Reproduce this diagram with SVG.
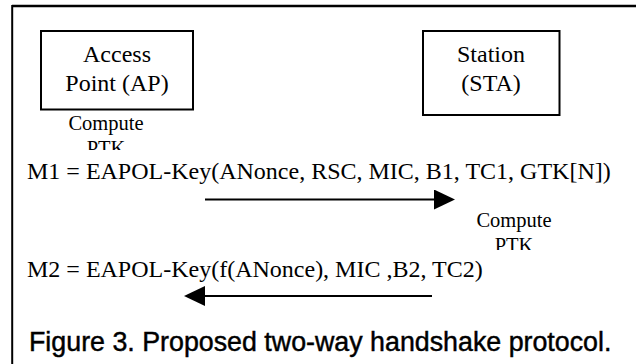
<svg xmlns="http://www.w3.org/2000/svg" width="636" height="364" viewBox="0 0 636 364">
  <style>
    .lbl { font-size: 24px; }
    .small { font-size: 20.5px; }
    .box { fill: #fff; stroke: #000; stroke-width: 2; }
    .conn { stroke: #000; stroke-width: 2; fill: none; }
    .cap { font-family: "Liberation Sans", Arial, sans-serif; font-size: 26.8px; fill: #000; stroke: #000; stroke-width: 0.45; }
  </style>
  <defs>
    <marker id="ah" viewBox="0 0 21 20" refX="1" refY="10" markerWidth="21" markerHeight="20" markerUnits="userSpaceOnUse" orient="auto">
      <path d="M0,0 L21,10 L0,20 z" fill="#000"/>
    </marker>
    <clipPath id="clipL"><rect x="0" y="100" width="300" height="50"/></clipPath>
    <clipPath id="clipR"><rect x="400" y="200" width="236" height="50"/></clipPath>
  </defs>
  <rect width="636" height="364" fill="#fff"/>
  <g id="frame">
    <line x1="12" y1="6" x2="636" y2="6" stroke="#000" stroke-width="2.5"/>
    <line x1="12.2" y1="5" x2="12.2" y2="364" stroke="#000" stroke-width="2"/>
  </g>
  <g font-family="'Liberation Serif', 'Times New Roman', 'DejaVu Serif', serif" fill="#000">
    <g id="AP">
      <rect class="box" x="41" y="31" width="152" height="78.5"/>
      <text class="lbl" x="117" y="62.3" text-anchor="middle">Access</text>
      <text class="lbl" x="117" y="90.5" text-anchor="middle">Point (AP)</text>
    </g>
    <g id="STA">
      <rect class="box" x="423" y="31" width="136.5" height="84"/>
      <text class="lbl" x="491" y="62.3" text-anchor="middle">Station</text>
      <text class="lbl" x="491" y="90.5" text-anchor="middle">(STA)</text>
    </g>
    <g id="computeAP" clip-path="url(#clipL)">
      <text class="small" x="106" y="130" text-anchor="middle">Compute</text>
      <text class="small" x="106" y="155" text-anchor="middle">PTK</text>
    </g>
    <g id="computeSTA" clip-path="url(#clipR)">
      <text class="small" x="514" y="226.7" text-anchor="middle">Compute</text>
      <text class="small" x="514" y="252" text-anchor="middle">PTK</text>
    </g>
    <g id="M1">
      <text class="lbl" x="27" y="179">M1 = EAPOL-Key(ANonce, RSC, MIC, B1, TC1, GTK[N])</text>
    </g>
    <g id="M2">
      <text class="lbl" x="27" y="276.7">M2 = EAPOL-Key(f(ANonce), MIC ,B2, TC2)</text>
    </g>
  </g>
  <g id="connectors">
    <line class="conn" x1="205" y1="199.5" x2="435" y2="199.5" marker-end="url(#ah)"/>
    <line class="conn" x1="432" y1="296" x2="204" y2="296" marker-end="url(#ah)"/>
  </g>
  <g id="caption">
    <text class="cap" x="29" y="350.7">Figure 3. Proposed two-way handshake protocol.</text>
  </g>
</svg>
